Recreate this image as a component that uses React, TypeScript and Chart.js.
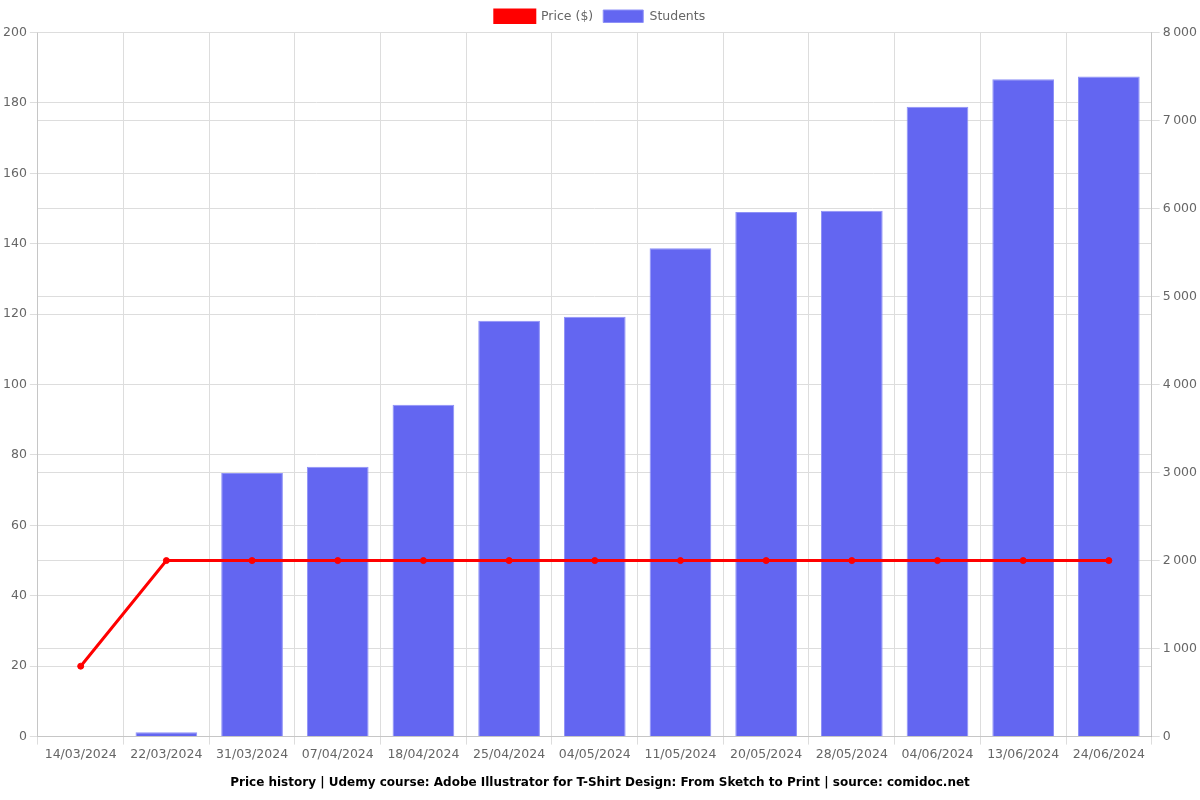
import React, { useEffect, useRef } from "react";
import { Chart, registerables } from "chart.js";

Chart.register(...registerables);

const categories = [
  "14/03/2024", "22/03/2024", "31/03/2024", "07/04/2024", "18/04/2024", "25/04/2024",
  "04/05/2024", "11/05/2024", "20/05/2024", "28/05/2024", "04/06/2024", "13/06/2024", "24/06/2024",
];
const priceValues = [20, 50, 50, 50, 50, 50, 50, 50, 50, 50, 50, 50, 50];
const studentValues = [0, 50, 2995, 3065, 3770, 4725, 4770, 5550, 5960, 5975, 7155, 7470, 7500];
const titleText =
  "Price history | Udemy course: Adobe Illustrator for T-Shirt Design: From Sketch to Print | source: comidoc.net";

export default function App() {
  const ref = useRef<HTMLCanvasElement | null>(null);
  useEffect(() => {
    document.body.style.margin = "0";
    Chart.defaults.font.family = "'DejaVu Sans', sans-serif";
    Chart.defaults.font.size = 12.5;
    Chart.defaults.color = "#666";
    const chart = new Chart(ref.current!, {
      type: "bar",
      data: {
        labels: categories,
        datasets: [
          {
            type: "line",
            label: "Price ($)",
            data: priceValues,
            borderColor: "#ff0000",
            backgroundColor: "#ff0000",
            borderWidth: 3,
            pointRadius: 3,
            pointBorderWidth: 1,
            yAxisID: "y",
            order: 0,
          },
          {
            type: "bar",
            label: "Students",
            data: studentValues,
            backgroundColor: "#6366f1",
            borderColor: "#8e91f7",
            borderWidth: 1,
            yAxisID: "y1",
            categoryPercentage: 0.8,
            barPercentage: 0.9,
            order: 1,
          },
        ],
      },
      options: {
        responsive: false,
        animation: false,
        maintainAspectRatio: false,
        plugins: {
          legend: { position: "top", labels: { boxWidth: 40 } },
          title: {
            display: true,
            position: "bottom",
            text: titleText,
            color: "#000",
            font: { weight: "bold", size: 12 },
          },
          tooltip: { enabled: false },
        },
        scales: {
          x: { grid: { color: "#ddd" } },
          y: {
            position: "left",
            min: 0,
            max: 200,
            ticks: { stepSize: 20 },
            grid: { color: "#ddd" },
          },
          y1: {
            position: "right",
            min: 0,
            max: 8000,
            ticks: {
              stepSize: 1000,
              callback: (v: any) => String(v).replace(/\B(?=(\d{3})+(?!\d))/g, "\u202f"),
            },
            grid: { color: "#ddd" },
          },
        },
      },
    });
    return () => chart.destroy();
  }, []);
  return (
    <div style={{ width: 1200, height: 800 }}>
      <canvas ref={ref} width={1200} height={800} />
    </div>
  );
}
